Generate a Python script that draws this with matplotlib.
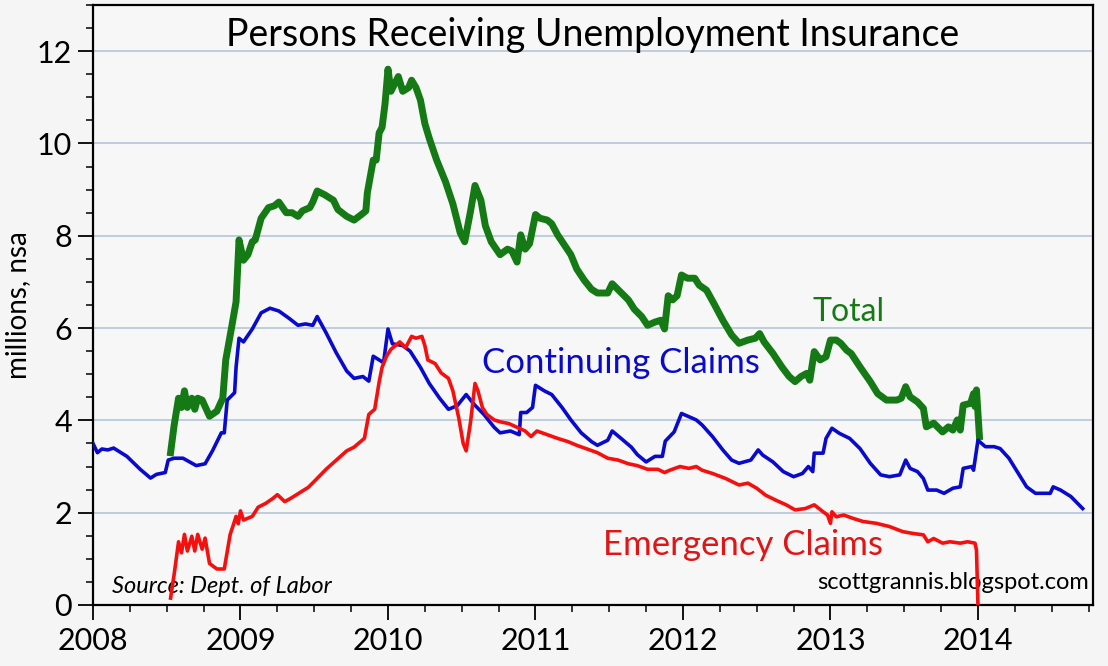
import numpy as np
import matplotlib
matplotlib.use("Agg")
import matplotlib.pyplot as plt
from matplotlib.ticker import MultipleLocator

plt.rcParams['font.family'] = ['Lato', 'DejaVu Sans']

# Continuing Claims (millions, nsa)
cont_x = [2008.00, 2008.03, 2008.06, 2008.10, 2008.14, 2008.23, 2008.32, 2008.39, 2008.43, 2008.49,
          2008.51, 2008.55, 2008.61, 2008.70, 2008.76, 2008.81, 2008.87, 2008.89, 2008.91, 2008.96,
          2008.97, 2008.99, 2009.02, 2009.08, 2009.14, 2009.20, 2009.26, 2009.33, 2009.39, 2009.44,
          2009.49, 2009.52, 2009.58, 2009.65, 2009.72, 2009.77, 2009.83, 2009.87, 2009.90, 2009.94,
          2009.97, 2010.00, 2010.03, 2010.10, 2010.15, 2010.22, 2010.28, 2010.35, 2010.41, 2010.47,
          2010.53, 2010.58, 2010.65, 2010.72, 2010.76, 2010.83, 2010.89, 2010.90, 2010.94, 2010.98,
          2011.00, 2011.06, 2011.11, 2011.14, 2011.18, 2011.24, 2011.31, 2011.38, 2011.42, 2011.49,
          2011.52, 2011.58, 2011.65, 2011.69, 2011.75, 2011.81, 2011.86, 2011.88, 2011.91, 2011.94,
          2011.99, 2012.04, 2012.09, 2012.13, 2012.20, 2012.27, 2012.33, 2012.38, 2012.46, 2012.51,
          2012.54, 2012.61, 2012.68, 2012.75, 2012.81, 2012.85, 2012.88, 2012.89, 2012.95, 2012.97,
          2013.01, 2013.06, 2013.13, 2013.20, 2013.27, 2013.34, 2013.40, 2013.47, 2013.51, 2013.54,
          2013.59, 2013.63, 2013.66, 2013.72, 2013.77, 2013.83, 2013.88, 2013.90, 2013.96, 2013.97,
          2014.00, 2014.05, 2014.11, 2014.15, 2014.21, 2014.28, 2014.33, 2014.39, 2014.45, 2014.49,
          2014.51, 2014.56, 2014.63, 2014.71]
cont_y = [3.50, 3.30, 3.38, 3.36, 3.40, 3.22, 2.94, 2.75, 2.83, 2.87,
          3.14, 3.18, 3.18, 3.02, 3.06, 3.34, 3.73, 3.73, 4.44, 4.60,
          5.15, 5.78, 5.70, 5.98, 6.33, 6.43, 6.37, 6.21, 6.06, 6.09,
          6.06, 6.25, 5.90, 5.46, 5.07, 4.91, 4.95, 4.85, 5.39, 5.31,
          5.25, 5.98, 5.66, 5.62, 5.50, 5.15, 4.80, 4.48, 4.24, 4.32,
          4.56, 4.36, 4.13, 3.85, 3.73, 3.77, 3.69, 4.17, 4.17, 4.28,
          4.76, 4.64, 4.56, 4.44, 4.28, 4.01, 3.73, 3.54, 3.46, 3.57,
          3.77, 3.61, 3.42, 3.26, 3.10, 3.22, 3.22, 3.55, 3.65, 3.75,
          4.15, 4.08, 4.01, 3.90, 3.65, 3.36, 3.14, 3.07, 3.14, 3.36,
          3.25, 3.10, 2.89, 2.78, 2.85, 3.00, 2.89, 3.29, 3.29, 3.61,
          3.83, 3.72, 3.61, 3.39, 3.07, 2.82, 2.78, 2.82, 3.14, 2.96,
          2.89, 2.74, 2.49, 2.49, 2.42, 2.53, 2.56, 2.96, 3.00, 2.92,
          3.57, 3.43, 3.43, 3.39, 3.18, 2.82, 2.56, 2.42, 2.42, 2.42,
          2.56, 2.49, 2.35, 2.09]

# Total
total_x = [2008.526, 2008.55, 2008.58, 2008.60, 2008.62, 2008.64, 2008.67, 2008.69, 2008.71, 2008.74,
           2008.79, 2008.84, 2008.88, 2008.90, 2008.94, 2008.97, 2008.99, 2009.02, 2009.05, 2009.08,
           2009.10, 2009.14, 2009.19, 2009.23, 2009.26, 2009.31, 2009.35, 2009.39, 2009.42, 2009.47,
           2009.49, 2009.52, 2009.57, 2009.63, 2009.66, 2009.72, 2009.77, 2009.82, 2009.85, 2009.86,
           2009.90, 2009.92, 2009.94, 2009.96, 2009.98, 2010.00, 2010.02, 2010.07, 2010.10, 2010.14,
           2010.16, 2010.19, 2010.22, 2010.25, 2010.28, 2010.33, 2010.39, 2010.44, 2010.49, 2010.52,
           2010.56, 2010.59, 2010.63, 2010.66, 2010.70, 2010.76, 2010.81, 2010.84, 2010.875, 2010.90,
           2010.93, 2010.96, 2011.00, 2011.03, 2011.08, 2011.11, 2011.15, 2011.19, 2011.24, 2011.28,
           2011.33, 2011.38, 2011.42, 2011.49, 2011.52, 2011.57, 2011.63, 2011.67, 2011.72, 2011.76,
           2011.81, 2011.85, 2011.875, 2011.90, 2011.93, 2011.96, 2011.99, 2012.03, 2012.08, 2012.11,
           2012.16, 2012.21, 2012.27, 2012.33, 2012.38, 2012.44, 2012.49, 2012.52, 2012.55, 2012.61,
           2012.67, 2012.72, 2012.76, 2012.80, 2012.84, 2012.86, 2012.89, 2012.93, 2012.97, 2013.00,
           2013.04, 2013.07, 2013.11, 2013.14, 2013.20, 2013.27, 2013.32, 2013.38, 2013.45, 2013.48,
           2013.51, 2013.54, 2013.59, 2013.63, 2013.65, 2013.70, 2013.76, 2013.80, 2013.83, 2013.86,
           2013.88, 2013.90, 2013.95, 2013.97, 2013.98, 2013.99, 2014.01]
total_y = [3.30, 3.89, 4.48, 4.28, 4.64, 4.28, 4.48, 4.24, 4.48, 4.44,
           4.09, 4.20, 4.48, 5.31, 6.02, 6.57, 7.91, 7.47, 7.59, 7.87,
           7.91, 8.38, 8.61, 8.65, 8.73, 8.50, 8.50, 8.42, 8.54, 8.61,
           8.73, 8.97, 8.89, 8.77, 8.57, 8.42, 8.34, 8.46, 8.54, 8.93,
           9.64, 9.64, 10.23, 10.35, 10.86, 11.61, 11.13, 11.45, 11.13, 11.21,
           11.37, 11.21, 10.94, 10.43, 10.11, 9.64, 9.17, 8.69, 8.06, 7.87,
           8.54, 9.09, 8.77, 8.22, 7.87, 7.59, 7.71, 7.67, 7.43, 8.02,
           7.71, 7.83, 8.46, 8.38, 8.34, 8.26, 8.02, 7.83, 7.59, 7.28,
           7.04, 6.84, 6.76, 6.76, 6.96, 6.80, 6.61, 6.41, 6.25, 6.06,
           6.13, 6.17, 5.98, 6.70, 6.61, 6.70, 7.15, 7.08, 7.08, 6.93,
           6.82, 6.53, 6.17, 5.85, 5.67, 5.74, 5.78, 5.88, 5.70, 5.45,
           5.16, 4.95, 4.84, 4.95, 5.02, 4.87, 5.49, 5.31, 5.38, 5.74,
           5.74, 5.67, 5.52, 5.45, 5.16, 4.84, 4.58, 4.44, 4.44, 4.48,
           4.73, 4.51, 4.40, 4.26, 3.86, 3.94, 3.75, 3.86, 3.79, 4.01,
           3.79, 4.33, 4.37, 4.58, 4.30, 4.66, 3.65]

# Emergency Claims
emerg_x = [2008.526, 2008.55, 2008.58, 2008.60, 2008.62, 2008.64, 2008.67, 2008.69, 2008.71, 2008.74,
           2008.76, 2008.79, 2008.84, 2008.89, 2008.93, 2008.95, 2008.97, 2008.985, 2009.00, 2009.02,
           2009.08, 2009.12, 2009.17, 2009.22, 2009.25, 2009.30, 2009.34, 2009.40, 2009.46, 2009.51,
           2009.58, 2009.65, 2009.72, 2009.77, 2009.84, 2009.87, 2009.91, 2009.94, 2009.96, 2009.99,
           2010.02, 2010.08, 2010.12, 2010.16, 2010.19, 2010.23, 2010.25, 2010.27, 2010.32, 2010.36,
           2010.41, 2010.44, 2010.48, 2010.51, 2010.53, 2010.56, 2010.59, 2010.61, 2010.64, 2010.67,
           2010.72, 2010.76, 2010.82, 2010.875, 2010.93, 2010.97, 2011.01, 2011.08, 2011.15, 2011.22,
           2011.28, 2011.35, 2011.42, 2011.49, 2011.56, 2011.63, 2011.69, 2011.76, 2011.83, 2011.875,
           2011.91, 2011.98, 2012.04, 2012.09, 2012.13, 2012.20, 2012.29, 2012.38, 2012.44, 2012.50,
           2012.56, 2012.63, 2012.70, 2012.76, 2012.83, 2012.89, 2012.95, 2012.98, 2013.00, 2013.01,
           2013.04, 2013.09, 2013.15, 2013.22, 2013.31, 2013.40, 2013.49, 2013.56, 2013.63, 2013.66,
           2013.70, 2013.76, 2013.81, 2013.88, 2013.93, 2013.98, 2013.99, 2014.00]
emerg_y = [0.15, 0.66, 1.37, 1.13, 1.53, 1.17, 1.49, 1.17, 1.53, 1.21,
           1.45, 0.90, 0.78, 0.78, 1.53, 1.72, 1.92, 1.76, 2.04, 1.84,
           1.92, 2.12, 2.20, 2.31, 2.39, 2.24, 2.31, 2.43, 2.55, 2.71,
           2.94, 3.14, 3.34, 3.42, 3.61, 4.13, 4.24, 4.83, 5.15, 5.39,
           5.54, 5.70, 5.58, 5.82, 5.78, 5.82, 5.62, 5.31, 5.23, 5.03,
           4.91, 4.64, 4.05, 3.50, 3.34, 3.97, 4.80, 4.64, 4.28, 4.13,
           4.01, 3.97, 3.93, 3.85, 3.77, 3.65, 3.77, 3.69, 3.61, 3.54,
           3.46, 3.38, 3.30, 3.18, 3.14, 3.06, 3.02, 2.94, 2.94, 2.87,
           2.92, 3.00, 2.96, 3.00, 2.92, 2.85, 2.74, 2.60, 2.64, 2.53,
           2.38, 2.27, 2.17, 2.06, 2.09, 2.17, 2.02, 1.95, 1.77, 2.02,
           1.91, 1.95, 1.88, 1.81, 1.77, 1.70, 1.59, 1.55, 1.52, 1.37,
           1.44, 1.34, 1.37, 1.34, 1.37, 1.34, 1.19, 0.0]

years = [2008, 2009, 2010, 2011, 2012, 2013, 2014]

bg = '#f5f5f5'
fig = plt.figure(figsize=(11.08, 6.66), dpi=100, facecolor=bg)
ax = fig.add_axes([93/1108, 1 - 605/666, 1000/1108, 600/666])
ax.set_facecolor('#f7f7f7')

ax.plot(total_x, total_y, color='#157a15', lw=5, zorder=3)
ax.plot(cont_x, cont_y, color='#0a0acc', lw=2.6, zorder=4)
ax.plot(emerg_x, emerg_y, color='#f51010', lw=2.6, zorder=4)

ax.set_xlim(2008, 2014.78)
ax.set_ylim(0, 13)
ax.set_yticks(np.arange(0, 13, 2))
ax.yaxis.set_minor_locator(MultipleLocator(0.5))
ax.set_xticks(years)
ax.set_xticklabels([str(y) for y in years])
ax.xaxis.set_minor_locator(MultipleLocator(0.25))
ax.grid(axis='y', which='major', color='#b4c6d8', lw=1.2, zorder=1)

ax.tick_params(axis='both', which='major', direction='out', length=11, width=1.3,
               labelsize=22, colors='black')
ax.tick_params(axis='both', which='minor', direction='out', length=5, width=1.1)
ax.tick_params(axis='x', which='major', pad=5)
ax.tick_params(axis='y', which='major', pad=4)
for s in ax.spines.values():
    s.set_linewidth(1.6)
    s.set_color('black')

ax.set_ylabel('millions, nsa', fontsize=20, labelpad=4)

ax.text(0.5, 0.95, 'Persons Receiving Unemployment Insurance', transform=ax.transAxes,
        ha='center', va='center', fontsize=27)
ax.text(2013.12, 6.34, 'Total', color='#157a15', fontsize=23, ha='center', va='center')
ax.text(2011.58, 5.24, 'Continuing Claims', color='#0a0acc', fontsize=25, ha='center', va='center')
ax.text(2012.41, 1.30, 'Emergency Claims', color='#e01515', fontsize=25, ha='center', va='center')
ax.text(2008.13, 0.41, 'Source: Dept. of Labor', fontsize=17, style='italic', ha='left', va='center')
ax.text(2014.75, 0.48, 'scottgrannis.blogspot.com', fontsize=17, ha='right', va='center')

fig.savefig('out.png', dpi=100, facecolor=bg)
